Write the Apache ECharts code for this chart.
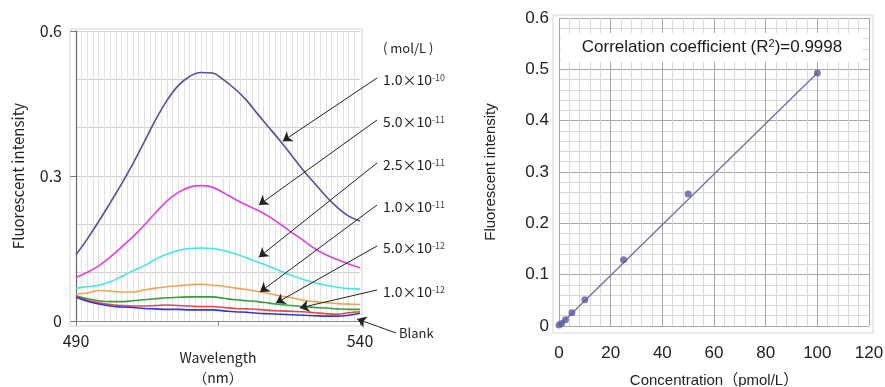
<!DOCTYPE html>
<html>
<head>
<meta charset="utf-8">
<script src="https://cdn.jsdelivr.net/npm/echarts@6/dist/echarts.min.js"></script>
<style>
  html, body { margin: 0; padding: 0; background: #fff; }
  #main { width: 885px; height: 387px; }
</style>
</head>
<body>
<div id="main"></div>
<script>
    // spectra (left) — fluorescence vs wavelength, one array per concentration
    var wavelengths = [490, 492, 494, 496, 498, 500, 502, 504, 506, 508, 510, 512, 514,
        516, 518, 520, 522, 524, 526, 528, 530, 532, 534, 536, 538, 540];
    var conc_1e10 = [0.137, 0.170, 0.206, 0.244, 0.283, 0.325, 0.370, 0.416, 0.456, 0.487, 0.506, 0.514, 0.513,
        0.499, 0.480, 0.457, 0.428, 0.400, 0.372, 0.342, 0.312, 0.285, 0.258, 0.235, 0.217, 0.207];
    var conc_5e11 = [0.090, 0.101, 0.114, 0.132, 0.153, 0.174, 0.198, 0.224, 0.248, 0.266, 0.277, 0.280, 0.277,
        0.265, 0.252, 0.240, 0.229, 0.216, 0.200, 0.183, 0.167, 0.150, 0.137, 0.127, 0.118, 0.110];
    var conc_25e12 = [0.068, 0.071, 0.074, 0.081, 0.092, 0.104, 0.114, 0.128, 0.138, 0.146, 0.150, 0.151, 0.150,
        0.146, 0.139, 0.131, 0.122, 0.113, 0.103, 0.094, 0.086, 0.079, 0.074, 0.070, 0.067, 0.066];
    var conc_1e11 = [0.056, 0.058, 0.063, 0.062, 0.060, 0.060, 0.064, 0.068, 0.071, 0.073, 0.075, 0.076, 0.074,
        0.072, 0.068, 0.065, 0.061, 0.057, 0.052, 0.048, 0.043, 0.040, 0.038, 0.036, 0.035, 0.034];
    var conc_5e12 = [0.052, 0.046, 0.042, 0.040, 0.040, 0.042, 0.044, 0.046, 0.048, 0.049, 0.050, 0.050, 0.050,
        0.047, 0.044, 0.042, 0.040, 0.037, 0.034, 0.032, 0.030, 0.028, 0.027, 0.025, 0.024, 0.024];
    var conc_1e12 = [0.050, 0.043, 0.038, 0.034, 0.032, 0.031, 0.031, 0.032, 0.033, 0.032, 0.031, 0.030, 0.030,
        0.028, 0.026, 0.025, 0.024, 0.022, 0.021, 0.020, 0.019, 0.017, 0.015, 0.014, 0.017, 0.019];
    var blank = [0.049, 0.041, 0.035, 0.031, 0.029, 0.028, 0.026, 0.025, 0.024, 0.024, 0.023, 0.023, 0.023,
        0.021, 0.019, 0.018, 0.016, 0.015, 0.014, 0.013, 0.012, 0.011, 0.010, 0.010, 0.012, 0.016];

    // labels on the right of the spectra and where their arrows point (wavelength, intensity)
    var concLabels = ['1.0×10', '5.0×10', '2.5×10', '1.0×10', '5.0×10', '1.0×10'];
    var concExp = ['-10', '-11', '-11', '-11', '-12', '-12'];
    var arrowTargets = [[526.4, 0.372], [522.2, 0.240], [522.2, 0.132], [522.4, 0.060], [525.2, 0.037], [529.4, 0.027]];
    var blankTarget = [539.5, 0.004];

    // calibration (right)
    var calConc = [0, 1, 2.5, 5, 10, 25, 50, 100];
    var calIntensity = [0.002, 0.005, 0.012, 0.026, 0.051, 0.129, 0.257, 0.493];
    var fitLine = [[0, 0.0], [100, 0.493]];

    var chart = echarts.init(document.getElementById('main'));

    var jpFont = '"Noto Sans CJK JP", sans-serif';
    var arFont = '"Liberation Sans", "Noto Sans CJK JP", sans-serif';

    function pairs(arr) {
        return wavelengths.map(function (w, i) { return [w, arr[i]]; });
    }

    var specSeries = [
        { name: '1.0e-10', data: conc_1e10, color: '#5e4a9e' },
        { name: '5.0e-11', data: conc_5e11, color: '#e23fe0' },
        { name: '2.5e-11', data: conc_25e12, color: '#45e3ea' },
        { name: '1.0e-11', data: conc_1e11, color: '#f0a24e' },
        { name: '5.0e-12', data: conc_5e12, color: '#3d9a3d' },
        { name: '1.0e-12', data: conc_1e12, color: '#e8473f' },
        { name: 'Blank', data: blank, color: '#3535d6' }
    ];

    // label anchor y (px) for each concentration text
    var labelY = [80, 122, 165, 207, 248, 292];

    var series = specSeries.map(function (s, i) {
        var ser = {
            name: s.name,
            type: 'line',
            xAxisIndex: 0,
            yAxisIndex: 0,
            data: pairs(s.data),
            smooth: 0.4,
            showSymbol: false,
            clip: false,
            silent: true,
            lineStyle: { color: s.color, width: 1.6 },
            itemStyle: { color: s.color },
            z: 3
        };
        var from = i < 6 ? { x: 377, y: labelY[i] - 2 } : { x: 396, y: 333 };
        var to = i < 6 ? arrowTargets[i] : blankTarget;
        ser.markLine = {
            silent: true,
            symbol: ['none', 'arrow'],
            symbolSize: 9,
            label: { show: false },
            emphasis: { disabled: true },
            lineStyle: { color: '#222', width: 1, type: 'solid' },
            itemStyle: { color: '#222' },
            data: [[from, { coord: to }]]
        };
        return ser;
    });

    series.push({
        name: 'fit',
        type: 'line',
        xAxisIndex: 1,
        yAxisIndex: 1,
        data: fitLine,
        showSymbol: false,
        silent: true,
        lineStyle: { color: '#6e6ea8', width: 1.3 },
        z: 3
    });
    series.push({
        name: 'calibration',
        type: 'scatter',
        xAxisIndex: 1,
        yAxisIndex: 1,
        data: calConc.map(function (c, i) { return [c, calIntensity[i]]; }),
        symbolSize: 7,
        itemStyle: { color: '#5d5d9e' },
        z: 4
    });

    var graphics = [
        // plot area frames
        { type: 'rect', shape: { x: 70, y: 29, width: 292, height: 297 }, style: { fill: 'none', stroke: '#d4d4d4', lineWidth: 1 }, z: 1 },
        { type: 'rect', shape: { x: 553, y: 15, width: 320, height: 318 }, style: { fill: 'none', stroke: '#d4d4d4', lineWidth: 1 }, z: 1 },
        // R² box
        { type: 'rect', shape: { x: 561, y: 33, width: 302, height: 29 }, style: { fill: '#fff' }, z: 10 },
        {
            type: 'text', x: 712, y: 47, z: 11,
            style: {
                text: '{a|Correlation coefficient (R}{s|2}{a|)=0.9998}',
                align: 'center', verticalAlign: 'middle',
                rich: {
                    a: { fontFamily: arFont, fontSize: 17, fill: '#1a1a1a' },
                    s: { fontFamily: arFont, fontSize: 11, fill: '#1a1a1a', verticalAlign: 'top' }
                }
            }
        },
        {
            type: 'text', x: 383, y: 48, z: 11,
            style: { text: '( mol/L )', fontFamily: jpFont, fontSize: 13, fill: '#222', verticalAlign: 'middle' }
        },
        {
            type: 'text', x: 399, y: 333, z: 11,
            style: { text: 'Blank', fontFamily: jpFont, fontSize: 13, fill: '#222', verticalAlign: 'middle' }
        }
    ];
    concLabels.forEach(function (t, i) {
        graphics.push({
            type: 'text', x: 383, y: labelY[i], z: 11,
            style: {
                text: '{n|' + t + '}{s|' + concExp[i] + '}',
                verticalAlign: 'middle',
                rich: {
                    n: { fontFamily: jpFont, fontSize: 14, fill: '#222' },
                    s: { fontFamily: jpFont, fontSize: 9, fill: '#444', verticalAlign: 'top' }
                }
            }
        });
    });

    var option = {
        backgroundColor: '#fff',
        animation: false,
        grid: [
            { left: 76, top: 31, width: 284, height: 290, containLabel: false, outerBoundsMode: 'none' },
            { left: 559, top: 18, width: 310, height: 308, containLabel: false, outerBoundsMode: 'none' }
        ],
        xAxis: [
            {
                gridIndex: 0,
                type: 'value',
                min: 490,
                max: 540,
                interval: 25,
                name: 'Wavelength\n（nm）',
                nameLocation: 'middle',
                nameGap: 27,
                nameMoveOverlap: false,
                nameTextStyle: { fontFamily: jpFont, fontSize: 14, color: '#222', lineHeight: 20 },
                axisLine: { show: true, lineStyle: { color: '#8a8a8a', width: 1 } },
                axisTick: { show: true, length: 5, lineStyle: { color: '#8a8a8a' } },
                axisLabel: {
                    margin: 12,
                    fontFamily: jpFont, fontSize: 16, color: '#222',
                    formatter: function (v) { return v === 515 ? '' : v; }
                },
                splitLine: { show: false },
                minorTick: { show: false, splitNumber: 25 },
                minorSplitLine: { show: true, lineStyle: { color: '#e2e2e2', width: 1 } }
            },
            {
                gridIndex: 1,
                type: 'value',
                min: 0,
                max: 120,
                interval: 20,
                name: 'Concentration（pmol/L）',
                nameLocation: 'middle',
                nameGap: 47,
                nameMoveOverlap: false,
                nameTextStyle: { fontFamily: arFont, fontSize: 15, color: '#222' },
                axisLine: { show: false },
                axisTick: { show: false },
                axisLabel: { margin: 19, fontFamily: arFont, fontSize: 17, color: '#222' },
                splitLine: { show: true, lineStyle: { color: '#a8a8a8', width: 1 } },
                minorTick: { show: false, splitNumber: 5 },
                minorSplitLine: { show: true, lineStyle: { color: '#d8d8d8', width: 1 } }
            }
        ],
        yAxis: [
            {
                gridIndex: 0,
                type: 'value',
                min: 0,
                max: 0.6,
                interval: 0.3,
                name: 'Fluorescent intensity',
                nameLocation: 'middle',
                nameGap: 50,
                nameMoveOverlap: false,
                nameTextStyle: { fontFamily: jpFont, fontSize: 15, color: '#222' },
                axisLine: { show: true, lineStyle: { color: '#666', width: 1.2 } },
                axisTick: { show: true, length: 6, lineStyle: { color: '#777' } },
                axisLabel: { margin: 14, fontFamily: jpFont, fontSize: 16, color: '#222' },
                splitLine: { show: true, lineStyle: { color: '#cfcfcf', width: 1 } },
                minorTick: { show: false, splitNumber: 3 },
                minorSplitLine: { show: true, lineStyle: { color: '#cfcfcf', width: 1 } }
            },
            {
                gridIndex: 1,
                type: 'value',
                min: 0,
                max: 0.6,
                interval: 0.1,
                name: 'Fluorescent intensity',
                nameLocation: 'middle',
                nameGap: 61,
                nameMoveOverlap: false,
                nameTextStyle: { fontFamily: arFont, fontSize: 15, color: '#222' },
                axisLine: { show: false },
                axisTick: { show: false },
                axisLabel: { margin: 10, fontFamily: arFont, fontSize: 17, color: '#222' },
                splitLine: { show: true, lineStyle: { color: '#a8a8a8', width: 1 } },
                minorTick: { show: false, splitNumber: 5 },
                minorSplitLine: { show: true, lineStyle: { color: '#d8d8d8', width: 1 } }
            }
        ],
        graphic: graphics,
        series: series
    };
    chart.setOption(option);
</script>
</body>
</html>
